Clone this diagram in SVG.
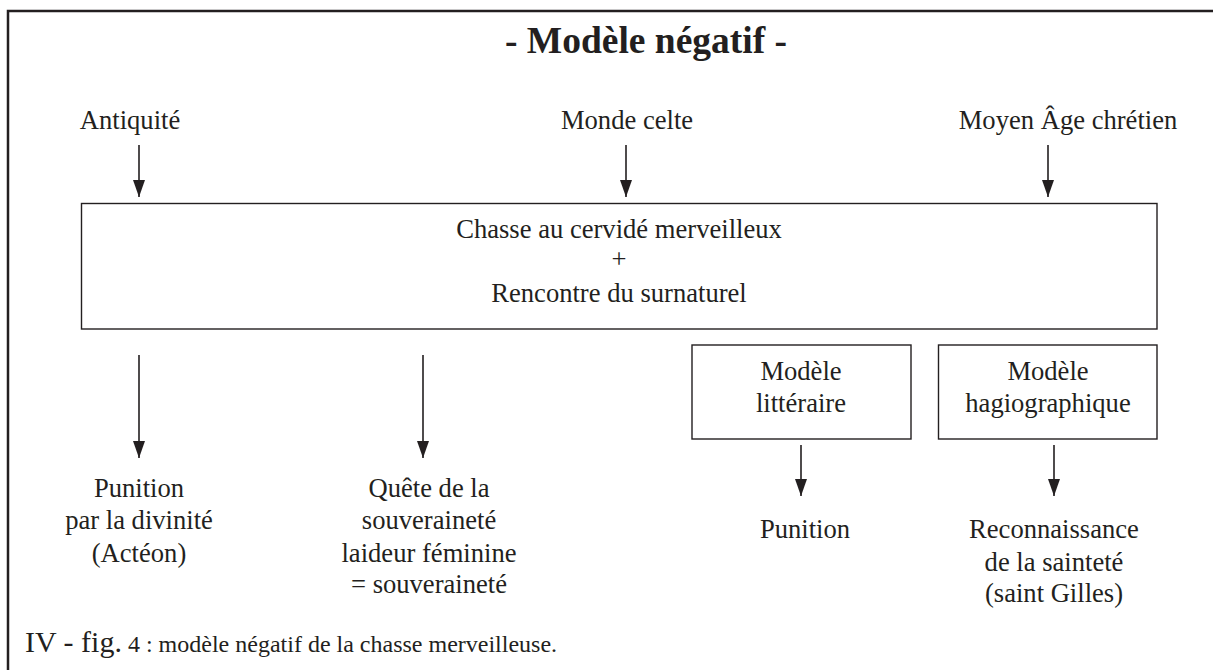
<svg xmlns="http://www.w3.org/2000/svg" width="1213" height="670" viewBox="0 0 1213 670">
<defs>
<style>
text{font-family:"Liberation Serif","Times New Roman",serif;fill:#231f20;font-size:26.6px;text-anchor:middle}
.title{font-size:37.5px;font-weight:bold}
.box{fill:none;stroke:#231f20;stroke-width:1.4}
.conn line{stroke:#231f20;stroke-width:1.6;marker-end:url(#ah)}
</style>
<marker id="ah" viewBox="0 0 17 12" refX="17" refY="6" markerWidth="17" markerHeight="12" markerUnits="userSpaceOnUse" orient="auto">
<path d="M0,0 L17,6 L0,12 z" fill="#231f20"/>
</marker>
</defs>
<rect width="1213" height="670" fill="#ffffff"/>
<path d="M8,670 V11 H1213" fill="none" stroke="#231f20" stroke-width="2.5"/>
<text class="title" x="646" y="53">- Modèle négatif -</text>
<g id="antiquite"><text x="130" y="129">Antiquité</text></g>
<g id="monde-celte"><text x="627" y="129">Monde celte</text></g>
<g id="moyen-age"><text x="1068" y="129">Moyen Âge chrétien</text></g>
<g id="chasse">
<rect class="box" x="81.5" y="203.5" width="1075.5" height="125.5"/>
<text x="619" y="238">Chasse au cervidé merveilleux</text>
<text x="619" y="268">+</text>
<text x="619" y="302">Rencontre du surnaturel</text>
</g>
<g id="modele-litteraire">
<rect class="box" x="692" y="345" width="219" height="94"/>
<text x="801" y="380">Modèle</text>
<text x="801" y="412">littéraire</text>
</g>
<g id="modele-hagio">
<rect class="box" x="938.5" y="345" width="218.5" height="94"/>
<text x="1048" y="380">Modèle</text>
<text x="1048" y="412">hagiographique</text>
</g>
<g id="punition-divinite">
<text x="139" y="497">Punition</text>
<text x="139" y="529">par la divinité</text>
<text x="139" y="562">(Actéon)</text>
</g>
<g id="quete">
<text x="429" y="497">Quête de la</text>
<text x="429" y="529">souveraineté</text>
<text x="429" y="562">laideur féminine</text>
<text x="429" y="593">= souveraineté</text>
</g>
<g id="punition">
<text x="805" y="538">Punition</text>
</g>
<g id="reconnaissance">
<text x="1054" y="538">Reconnaissance</text>
<text x="1054" y="571">de la sainteté</text>
<text x="1054" y="602">(saint Gilles)</text>
</g>
<g id="connectors" class="conn">
<line x1="139" y1="145" x2="139" y2="197"/>
<line x1="626" y1="145" x2="626" y2="197"/>
<line x1="1048" y1="145" x2="1048" y2="197"/>
<line x1="139" y1="355" x2="139" y2="458"/>
<line x1="423" y1="355" x2="423" y2="458"/>
<line x1="801" y1="445" x2="801" y2="496"/>
<line x1="1054" y1="445" x2="1054" y2="496"/>
</g>
<text x="25" y="652" style="text-anchor:start;font-size:24px"><tspan style="font-size:30px">IV - fig.</tspan> 4 : modèle négatif de la chasse merveilleuse.</text>
</svg>
